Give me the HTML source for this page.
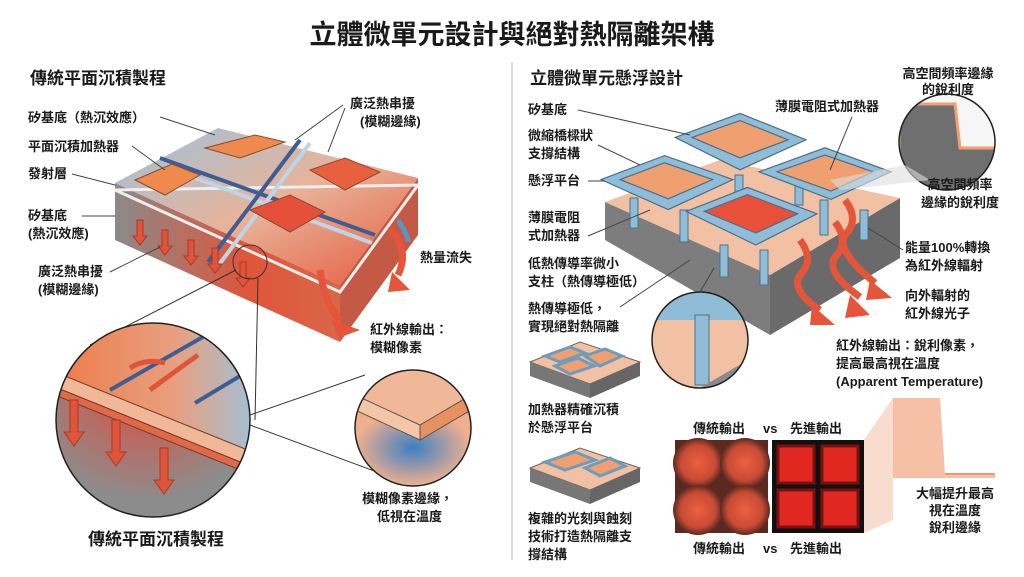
<!DOCTYPE html>
<html><head><meta charset="utf-8"><style>
body{margin:0;background:#fff;}
svg text{font-family:"Liberation Sans","Noto Sans CJK TC",sans-serif;fill:#1a1a1a;}
</style></head><body>
<svg width="1024" height="572" viewBox="0 0 1024 572" xmlns="http://www.w3.org/2000/svg">
<defs>
<linearGradient id="topL" x1="0" y1="0" x2="1" y2="1"><stop offset="0" stop-color="#9cc3dc"/><stop offset="0.5" stop-color="#e8b39a"/><stop offset="1" stop-color="#e5583a"/></linearGradient>
<linearGradient id="sideL" x1="0" y1="0" x2="1" y2="0"><stop offset="0" stop-color="#8a8a8a"/><stop offset="0.6" stop-color="#e0553a"/><stop offset="1" stop-color="#d8674a"/></linearGradient>
<radialGradient id="heatL" cx="0.45" cy="0.3" r="0.6"><stop offset="0" stop-color="#e5493a"/><stop offset="1" stop-color="#8c8c8c"/></radialGradient>
<linearGradient id="topC" x1="0" y1="0" x2="1" y2="0"><stop offset="0" stop-color="#ee7a48"/><stop offset="0.6" stop-color="#e8a080"/><stop offset="1" stop-color="#9cc3dc"/></linearGradient>
<radialGradient id="blue" cx="0.5" cy="0.5" r="0.5"><stop offset="0" stop-color="#3d7fc5"/><stop offset="1" stop-color="#f0b08e"/></radialGradient>
<radialGradient id="hm1" cx="0.5" cy="0.5" r="0.5"><stop offset="0" stop-color="#ec6040"/><stop offset="0.7" stop-color="#c84a35"/><stop offset="1" stop-color="#5a2a20"/></radialGradient>
</defs>

<text x="512" y="44" font-size="27" font-weight="bold" text-anchor="middle">立體微單元設計與絕對熱隔離架構</text>
<text x="30" y="84" font-size="17" font-weight="bold">傳統平面沉積製程</text>
<text x="530" y="84" font-size="17" font-weight="bold">立體微單元懸浮設計</text>
<line x1="512" y1="62" x2="512" y2="560" stroke="#bbb"/>

<!-- LEFT SLAB -->
<polygon points="115,183 115,240 340,342 340,285" fill="url(#sideL)"/>
<polygon points="340,285 418,178 418,235 340,342" fill="#c45a45"/>
<polygon points="115,183 218,128 418,178 340,285" fill="url(#topL)"/>
<polygon points="115,190 340,292 418,185" fill="none" stroke="#eee" stroke-width="3"/>
<line x1="160" y1="158" x2="375" y2="235" stroke="#3d5e94" stroke-width="4"/>
<line x1="165" y1="167" x2="372" y2="243" stroke="#bfd5e5" stroke-width="4"/>
<line x1="300" y1="140" x2="208" y2="262" stroke="#3d5e94" stroke-width="4"/>
<line x1="310" y1="143" x2="218" y2="266" stroke="#bfd5e5" stroke-width="4"/>
<polygon points="205,148 255,135 285,142 240,158" fill="#ef8a4f" stroke="#8a4a30"/>
<polygon points="135,180 172,164 200,175 165,195" fill="#ef8a4f" stroke="#8a4a30"/>
<polygon points="310,170 345,158 380,172 345,190" fill="#e8603e" stroke="#8a4a30"/>
<polygon points="250,210 290,195 325,212 290,232" fill="#e5503a" stroke="#8a4a30"/>
<g fill="#e0553a" stroke="#a83a25">
<path d="M137,220 v16 h-4 l7,9 7,-9 h-4 v-16z"/><path d="M162,230 v16 h-4 l7,9 7,-9 h-4 v-16z"/>
<path d="M188,240 v16 h-4 l7,9 7,-9 h-4 v-16z"/><path d="M212,248 v16 h-4 l7,9 7,-9 h-4 v-16z"/>
<path d="M240,262 v16 h-4 l7,9 7,-9 h-4 v-16z"/>
</g>
<path d="M390,230 q20,20 8,45" stroke="#e5553a" stroke-width="7" fill="none"/>
<polygon points="392,272 410,290 388,292" fill="#e5553a"/>
<path d="M320,270 q5,35 20,50" stroke="#e5553a" stroke-width="7" fill="none"/>
<polygon points="332,320 360,330 338,338" fill="#e5553a"/>
<path d="M398,220 q10,15 10,22" stroke="#5c93c9" stroke-width="5" fill="none"/>
<circle cx="250" cy="262" r="17" fill="none" stroke="#333"/>
<line x1="236" y1="270" x2="90" y2="345" stroke="#333"/>
<line x1="258" y1="278" x2="255" y2="420" stroke="#333"/>

<!-- big circle -->
<clipPath id="c1"><circle cx="153" cy="420" r="97"/></clipPath>
<g clip-path="url(#c1)">
<rect x="50" y="320" width="210" height="200" fill="url(#heatL)"/>
<polygon points="50,320 260,320 260,455 50,370" fill="url(#topC)"/>
<polygon points="50,370 260,455 260,470 50,385" fill="#f0b898" stroke="#7a3a25"/>
<polygon points="50,385 260,470 260,478 50,393" fill="#e06a48" stroke="#7a3a25"/>
<line x1="110" y1="390" x2="215" y2="330" stroke="#3d5e94" stroke-width="4"/>
<line x1="195" y1="403" x2="250" y2="370" stroke="#3d5e94" stroke-width="4"/>
<path d="M130,368 q15,-10 35,-5" stroke="#e0553a" stroke-width="5" fill="none"/>
<path d="M150,390 q20,-15 48,-35" stroke="#e0553a" stroke-width="5" fill="none"/>
<g fill="#e0553a" stroke="#a83a25"><path d="M70,400 v32 h-6 l10,14 10,-14 h-6 v-32z"/><path d="M112,420 v32 h-6 l10,14 10,-14 h-6 v-32z"/><path d="M160,448 v32 h-6 l10,14 10,-14 h-6 v-32z"/></g>
</g>
<circle cx="153" cy="420" r="97" fill="none" stroke="#222" stroke-width="1.5"/>
<text x="88" y="545" font-size="17" font-weight="bold">傳統平面沉積製程</text>
<!-- small circle -->
<line x1="250" y1="415" x2="365" y2="375" stroke="#333"/><line x1="250" y1="425" x2="385" y2="475" stroke="#333"/>
<clipPath id="c2"><circle cx="413" cy="428" r="58"/></clipPath>
<g clip-path="url(#c2)"><rect x="355" y="370" width="116" height="116" fill="#9a9a9a"/>
<polygon points="355,410 420,440 471,410 471,486 355,486" fill="url(#blue)"/>
<polygon points="355,395 420,425 471,395 471,370 355,370" fill="#f0b898"/>
<polygon points="355,395 420,425 420,440 355,410" fill="#f3c6a8" stroke="#555"/>
<polygon points="420,425 471,395 471,410 420,440" fill="#e8905f" stroke="#555"/></g>
<circle cx="413" cy="428" r="58" fill="none" stroke="#222" stroke-width="1.5"/>
<g font-size="13" font-weight="bold">
<text x="28" y="122">矽基底（熱沉效應）</text><line x1="160" y1="117" x2="215" y2="135" stroke="#444"/>
<text x="28" y="151">平面沉積加熱器</text><line x1="132" y1="146" x2="165" y2="170" stroke="#444"/>
<text x="28" y="178">發射層</text><line x1="72" y1="174" x2="115" y2="185" stroke="#444"/>
<text x="28" y="220">矽基底</text><line x1="82" y1="216" x2="115" y2="216" stroke="#444"/>
<text x="28" y="238">(熱沉效應)</text>
<text x="38" y="276">廣泛熱串擾</text><text x="38" y="294">(模糊邊緣)</text>
<line x1="110" y1="272" x2="160" y2="247" stroke="#444"/>
<text x="350" y="108">廣泛熱串擾</text><text x="360" y="126">(模糊邊緣)</text>
<line x1="343" y1="105" x2="295" y2="140" stroke="#444"/><line x1="345" y1="108" x2="328" y2="152" stroke="#444"/>
<text x="420" y="262">熱量流失</text>
<text x="370" y="334">紅外線輸出：</text><text x="370" y="352">模糊像素</text>
<text x="362" y="503">模糊像素邊緣，</text><text x="377" y="521">低視在溫度</text>
</g>

<!-- RIGHT SLAB -->
<polygon points="605,202 605,240 770,335 770,275" fill="#7d7d7d"/>
<polygon points="770,275 900,198 900,258 770,335" fill="#6a6a6a"/>
<polygon points="605,202 720,160 900,198 770,275" fill="#f2c0a2"/>
<g fill="#8fbcd6" stroke="#4a6f8c">
<rect x="630" y="198" width="8" height="30"/><rect x="680" y="210" width="8" height="32"/><rect x="720" y="245" width="8" height="32"/><rect x="760" y="250" width="8" height="35"/>
<rect x="820" y="200" width="8" height="35"/><rect x="860" y="210" width="8" height="30"/><rect x="795" y="175" width="8" height="30"/><rect x="735" y="175" width="8" height="30"/>
</g>
<g stroke="#4a6f8c" stroke-width="1">
<g transform="translate(740,141) scale(1.2) translate(-740,-141)"><polygon points="686,138 740,118 795,140 740,165" fill="#8fbcd6"/><polygon points="700,138 740,124 780,140 740,155" fill="#f0a070"/></g>
<g transform="translate(667,182) scale(1.2) translate(-667,-182)"><polygon points="612,180 665,160 722,180 668,205" fill="#8fbcd6"/><polygon points="628,180 665,166 705,180 668,196" fill="#f0a070"/></g>
<g transform="translate(825,173) scale(1.2) translate(-825,-173)"><polygon points="770,172 825,152 880,172 830,195" fill="#8fbcd6"/><polygon points="785,172 825,158 865,172 830,188" fill="#f0a070"/></g>
<g transform="translate(751,215) scale(1.2) translate(-751,-215)"><polygon points="697,212 748,192 806,214 755,240" fill="#8fbcd6"/><polygon points="712,212 748,198 790,214 755,230" fill="#e8503a"/></g>
</g>
<g stroke="#e5553a" stroke-width="7" fill="none"><path d="M800,240 q15,20 0,35 q-10,15 20,35"/><path d="M835,222 q15,20 0,35 q-10,15 25,40"/><path d="M845,200 q15,20 0,35 q-10,15 30,48"/></g>
<g fill="#e5553a"><polygon points="812,305 835,325 810,325"/><polygon points="850,295 870,315 845,318"/><polygon points="870,280 892,298 866,300"/></g>
<!-- top right circle -->
<clipPath id="c3"><circle cx="947" cy="142" r="48"/></clipPath>
<g clip-path="url(#c3)"><rect x="899" y="94" width="96" height="96" fill="#f6f6f6"/>
<path d="M899,104 L955,104 L960,148 L995,148 L995,190 L899,190z" fill="#6f6f6f" stroke="#f0a070" stroke-width="3"/></g>
<circle cx="947" cy="142" r="48" fill="none" stroke="#222" stroke-width="1.5"/>
<polygon points="905,165 830,180 840,190 930,180" fill="#ddd" opacity="0.6"/>
<!-- mid circle -->
<clipPath id="c4"><circle cx="700" cy="340" r="48"/></clipPath>
<g clip-path="url(#c4)"><rect x="652" y="292" width="96" height="96" fill="#f2c0a2"/>
<polygon points="652,292 748,292 748,320 652,320" fill="#8fbcd6"/><rect x="695" y="315" width="14" height="70" fill="#8fbcd6" stroke="#4a6f8c"/>
<polygon points="700,388 748,360 748,388" fill="#8a8a8a"/></g>
<circle cx="700" cy="340" r="48" fill="none" stroke="#222" stroke-width="1.5"/>
<line x1="714" y1="268" x2="700" y2="292" stroke="#444"/>
<g font-size="13" font-weight="bold">
<text x="528" y="114">矽基底</text><line x1="578" y1="110" x2="690" y2="135" stroke="#444"/>
<text x="528" y="140">微縮橋樑狀</text><text x="528" y="158">支撐結構</text><line x1="598" y1="145" x2="640" y2="165" stroke="#444"/>
<text x="528" y="185">懸浮平台</text><line x1="588" y1="181" x2="605" y2="181" stroke="#444"/>
<text x="528" y="222">薄膜電阻</text><text x="528" y="240">式加熱器</text><line x1="588" y1="236" x2="650" y2="210" stroke="#444"/>
<text x="528" y="268">低熱傳導率微小</text><text x="528" y="286">支柱（熱傳導極低）</text>
<text x="528" y="313">熱傳導極低，</text><text x="528" y="331">實現絕對熱隔離</text><line x1="620" y1="307" x2="690" y2="260" stroke="#444"/>
<text x="775" y="111">薄膜電阻式加熱器</text><line x1="852" y1="117" x2="830" y2="170" stroke="#444"/>
<text x="948" y="78" text-anchor="middle">高空間頻率邊緣</text><text x="948" y="94" text-anchor="middle">的銳利度</text>
<text x="960" y="189" text-anchor="middle">高空間頻率</text><text x="960" y="207" text-anchor="middle">邊緣的銳利度</text>
<text x="905" y="252">能量100%轉換</text><text x="905" y="270">為紅外線輻射</text><line x1="903" y1="250" x2="868" y2="228" stroke="#444"/>
<text x="905" y="300">向外輻射的</text><text x="905" y="318">紅外線光子</text>
<text x="836" y="350">紅外線輸出：銳利像素，</text><text x="836" y="368">提高最高視在溫度</text><text x="836" y="386">(Apparent Temperature)</text>
<text x="528" y="414">加熱器精確沉積</text><text x="528" y="432">於懸浮平台</text>
<text x="528" y="523">複雜的光刻與蝕刻</text><text x="528" y="541">技術打造熱隔離支</text><text x="528" y="559">撐結構</text>
<text x="693" y="433">傳統輸出</text><text x="763" y="433">vs</text><text x="790" y="433">先進輸出</text>
<text x="693" y="553">傳統輸出</text><text x="763" y="553">vs</text><text x="790" y="553">先進輸出</text>
</g>
<!-- small devices -->
<polygon points="530,362 580,342 640,362 590,384" fill="#f2c0a2" stroke="#666"/>
<polygon points="530,362 590,384 590,398 530,376" fill="#777"/><polygon points="590,384 640,362 640,376 590,398" fill="#666"/>
<g fill="#f0a070" stroke="#6f9cbc" stroke-width="3"><polygon points="545,356 570,347 585,353 560,362"/><polygon points="585,356 605,349 622,356 600,366"/><polygon points="555,366 578,358 594,366 570,374"/></g>
<polygon points="530,468 580,448 640,468 590,490" fill="#f2c0a2" stroke="#666"/>
<polygon points="530,468 590,490 590,504 530,482" fill="#777"/><polygon points="590,490 640,468 640,482 590,504" fill="#666"/>
<g fill="#f0a070" stroke="#6f9cbc" stroke-width="3"><polygon points="545,462 575,452 595,460 565,470"/><polygon points="585,468 610,458 625,466 600,476"/></g>
<!-- heatmaps -->
<polygon points="864,440 893,398 893,520 864,533" fill="#f8dccd"/>
<path d="M893,474 L893,398 L940,398 L945,474 L995,474 L995,478 L893,478z" fill="#f5c0a5"/>
<line x1="945" y1="474" x2="995" y2="474" stroke="#e89a78" stroke-width="2"/>
<rect x="675" y="440" width="93" height="93" fill="#5a2a20"/>
<circle cx="698" cy="463" r="25" fill="url(#hm1)"/><circle cx="745" cy="463" r="25" fill="url(#hm1)"/><circle cx="698" cy="510" r="25" fill="url(#hm1)"/><circle cx="745" cy="510" r="25" fill="url(#hm1)"/>
<rect x="772" y="440" width="92" height="93" fill="#111"/>
<g fill="#e02820" stroke="#7a1010" stroke-width="3"><rect x="778" y="446" width="36" height="37"/><rect x="822" y="446" width="36" height="37"/><rect x="778" y="490" width="36" height="37"/><rect x="822" y="490" width="36" height="37"/></g>
<g font-size="13" font-weight="bold"><text x="955" y="498" text-anchor="middle">大幅提升最高</text><text x="955" y="515" text-anchor="middle">視在溫度</text><text x="955" y="532" text-anchor="middle">銳利邊緣</text></g>
</svg>
</body></html>
